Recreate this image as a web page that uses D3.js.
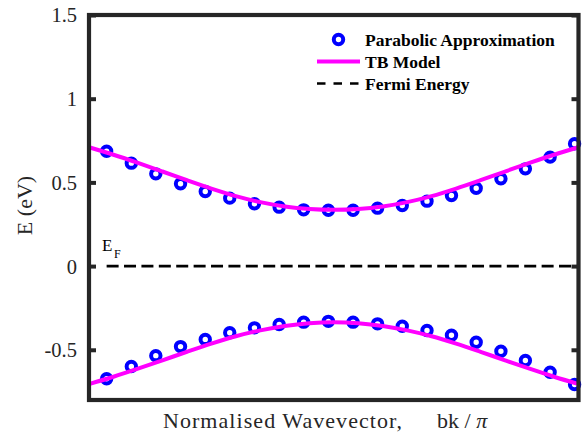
<!DOCTYPE html>
<html>
<head>
<meta charset="utf-8">
<script src="https://cdn.jsdelivr.net/npm/d3@7"></script>
<style>
  html, body { margin: 0; padding: 0; background: #fff; }
  svg { display: block; }
</style>
</head>
<body>
<svg id="chart" width="585" height="434"></svg>
<script>
// Band structure: tight-binding bands vs. parabolic approximation
const yTicks = [1.5, 1, 0.5, 0, -0.5];
const yTickLabels = ["1.5", "1", "0.5", "0", "-0.5"];

// Tight-binding model, sampled along bk/pi
const kTB = [-1, -0.9, -0.8, -0.7, -0.6, -0.5, -0.4, -0.3, -0.2, -0.1, 0,
             0.1, 0.2, 0.3, 0.4, 0.5, 0.6, 0.7, 0.8, 0.9, 1];
const tbConduction = [0.710, 0.665, 0.616, 0.565, 0.513, 0.463, 0.418, 0.382, 0.356, 0.341, 0.336,
                      0.341, 0.356, 0.382, 0.418, 0.463, 0.513, 0.565, 0.616, 0.665, 0.710];
const tbValence = [-0.705, -0.661, -0.613, -0.563, -0.512, -0.463, -0.419, -0.384, -0.358, -0.342, -0.336,
                   -0.342, -0.358, -0.384, -0.419, -0.463, -0.512, -0.563, -0.613, -0.661, -0.705];

// Parabolic approximation points
const kPar = [-0.928, -0.827, -0.727, -0.626, -0.525, -0.425, -0.324, -0.223, -0.123, -0.022,
              0.079, 0.179, 0.280, 0.381, 0.481, 0.582, 0.683, 0.783, 0.884, 0.984];
const parConduction = [0.686, 0.615, 0.551, 0.492, 0.446, 0.406, 0.372, 0.352, 0.336, 0.334,
                       0.334, 0.346, 0.362, 0.388, 0.422, 0.465, 0.522, 0.581, 0.651, 0.731];
const parValence = [-0.673, -0.600, -0.535, -0.481, -0.438, -0.398, -0.369, -0.349, -0.335, -0.330,
                    -0.335, -0.345, -0.359, -0.385, -0.413, -0.455, -0.509, -0.564, -0.634, -0.707];

const fermiLevel = 0;
const legendLabels = ["Parabolic Approximation", "TB Model", "Fermi Energy"];

const svg = d3.select("#chart");
const W = 585, H = 434;
const m = { left: 89, right: W - 578.5, top: 15, bottom: H - 400 };
const pw = W - m.left - m.right, ph = H - m.top - m.bottom;

const x = d3.scaleLinear().domain([-1, 1]).range([m.left, m.left + pw]);
const y = d3.scaleLinear().domain([-0.8, 1.5]).range([m.top + ph, m.top]);

const axisColor = "#262626";
const serif = "'Liberation Serif', 'Times New Roman', serif";

const plot = svg.append("g");

// Parabolic approximation markers
const parData = [kPar.map((k, i) => [k, parConduction[i]]), kPar.map((k, i) => [k, parValence[i]])];
parData.forEach(band => {
  plot.append("g").selectAll("circle").data(band).join("circle")
    .attr("cx", d => x(d[0])).attr("cy", d => y(d[1]))
    .attr("r", 4.7)
    .attr("fill", "none").attr("stroke", "#0000ff").attr("stroke-width", 4);
});

// Tight-binding curves
const line = d3.line().x(d => x(d[0])).y(d => y(d[1])).curve(d3.curveMonotoneX);
[tbConduction, tbValence].forEach(vals => {
  plot.append("path")
    .attr("d", line(kTB.map((k, i) => [k, vals[i]])))
    .attr("fill", "none").attr("stroke", "#ff00ff").attr("stroke-width", 4);
});

// Fermi energy, drawn across the same k range as the parabolic points
plot.append("path")
  .attr("d", d3.line()([[x(kPar[0]), y(fermiLevel)], [x(kPar[kPar.length - 1]), y(fermiLevel)]]))
  .attr("stroke", "#000").attr("stroke-width", 2.6)
  .attr("stroke-dasharray", "12 5.4");

// E_F label
const ef = svg.append("text")
  .attr("x", x(-1) + 13).attr("y", y(fermiLevel) - 15.5)
  .attr("font-family", serif).attr("font-size", 17).attr("fill", "#000");
ef.append("tspan").text("E");
ef.append("tspan").attr("font-size", 12).attr("dy", 7).attr("dx", 1.5).text("F");

// Frame
svg.append("rect")
  .attr("x", m.left).attr("y", m.top).attr("width", pw).attr("height", ph)
  .attr("fill", "none").attr("stroke", axisColor).attr("stroke-width", 4.2);

// Y axis ticks (left and right, pointing inward)
const yAxisL = d3.axisLeft(y).tickValues(yTicks).tickFormat((d, i) => yTickLabels[i])
  .tickSizeInner(-7).tickSizeOuter(0).tickPadding(12);
const gL = svg.append("g").attr("transform", `translate(${m.left},0)`).call(yAxisL);
gL.select(".domain").remove();
gL.selectAll(".tick line").attr("stroke", axisColor).attr("stroke-width", 4);
gL.selectAll(".tick text").attr("font-family", serif).attr("font-size", 20.5)
  .attr("fill", axisColor).attr("dy", "0.34em");

const yAxisR = d3.axisRight(y).tickValues(yTicks).tickFormat("").tickSizeInner(-7).tickSizeOuter(0);
const gR = svg.append("g").attr("transform", `translate(${m.left + pw},0)`).call(yAxisR);
gR.select(".domain").remove();
gR.selectAll(".tick line").attr("stroke", axisColor).attr("stroke-width", 4);

// Axis labels
svg.append("text")
  .attr("transform", `translate(32,${m.top + ph / 2 - 2}) rotate(-90)`)
  .attr("text-anchor", "middle")
  .attr("font-family", serif).attr("font-size", 22).attr("fill", axisColor)
  .text("E (eV)");

svg.append("text")
  .attr("x", 163).attr("y", 428)
  .attr("font-family", serif).attr("font-size", 22).attr("fill", axisColor)
  .attr("textLength", 239).attr("lengthAdjust", "spacing")
  .text("Normalised Wavevector,");
const kl = svg.append("text")
  .attr("x", 437).attr("y", 428)
  .attr("font-family", serif).attr("font-size", 22).attr("fill", axisColor);
kl.append("tspan").text("bk / ");
kl.append("tspan").attr("font-style", "italic").text("π");

// Legend
const lg = svg.append("g").attr("font-family", serif).attr("font-weight", "bold")
  .attr("font-size", 17.5).attr("fill", "#000");
const rowY = [39.5, 61.5, 83.5];
const lx0 = 317, lx1 = 360, tx = 365;
lg.append("circle").attr("cx", (lx0 + lx1) / 2).attr("cy", rowY[0]).attr("r", 4.7)
  .attr("fill", "none").attr("stroke", "#0000ff").attr("stroke-width", 4);
lg.append("line").attr("x1", lx0).attr("x2", lx1).attr("y1", rowY[1]).attr("y2", rowY[1])
  .attr("stroke", "#ff00ff").attr("stroke-width", 4);
lg.append("line").attr("x1", lx0).attr("x2", lx1).attr("y1", rowY[2]).attr("y2", rowY[2])
  .attr("stroke", "#000").attr("stroke-width", 2.6).attr("stroke-dasharray", "8.5 8");
legendLabels.forEach((t, i) => {
  lg.append("text").attr("x", tx).attr("y", rowY[i]).attr("dy", "0.35em").text(t);
});
</script>
</body>
</html>
